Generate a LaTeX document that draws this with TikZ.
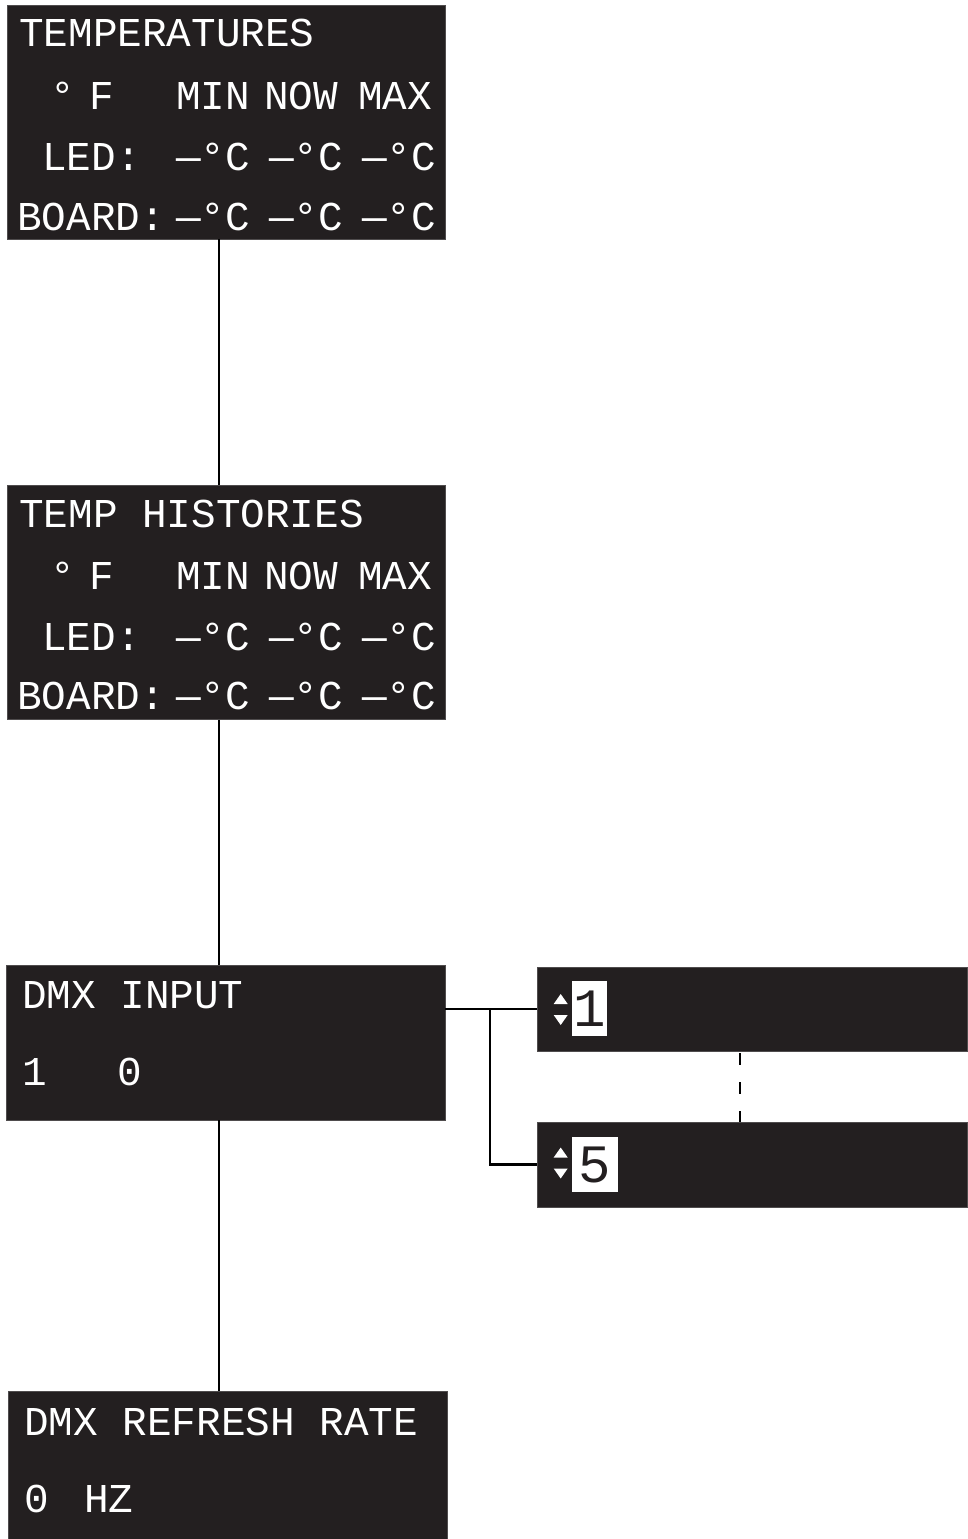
\documentclass[tikz,border=0pt]{standalone}
\usepackage{fontspec}
\usepackage{tikz}
\usetikzlibrary{calc}
\newfontfamily\lcdfont{Liberation Mono}
\definecolor{lcdbg}{HTML}{231F20}

\begin{document}
\begin{tikzpicture}[
  x=1pt, y=-1pt,
  screen/.style={rectangle, fill=lcdbg, draw=lcdbg!80!white, line width=0.6pt, inner sep=0pt},
  lcd/.style={anchor=base west, inner sep=0pt, text=white, font=\lcdfont\fontsize{41}{45}\selectfont},
  keycap/.style={rectangle, fill=white, inner sep=0pt, minimum height=55pt, text=lcdbg, font=\lcdfont\fontsize{54}{58}\selectfont},
  link/.style={line width=2.8pt, black}
]
\useasboundingbox (0,0) rectangle (967,1539);

% screens
\node[screen, minimum width=438pt, minimum height=234pt] (temps) at (226,122) {};
\node[screen, minimum width=438pt, minimum height=234pt] (hist) at (226,602.5) {};
\node[screen, minimum width=439pt, minimum height=155pt] (dmx) at (225.5,1042.5) {};
\node[screen, minimum width=439pt, minimum height=149pt] (rate) at (227.5,1465.5) {};
\node[screen, minimum width=430pt, minimum height=84pt] (sel1) at (752,1009) {};
\node[screen, minimum width=430pt, minimum height=85pt] (sel5) at (752,1164.5) {};

% temperatures
\node[lcd] (tTitle) at (19,46) {TEMPERATURES};
\node[lcd] (tDeg) at (50,109) {°};
\node[lcd] (tF) at (89,109) {F};
\node[lcd] (tMin) at (176,109) {MIN};
\node[lcd] (tNow) at (264,109) {NOW};
\node[lcd] (tMax) at (358,109) {MAX};
\node[lcd] (tLed) at (42,170) {LED:};
\node[lcd] (tLed1) at (176,170) {—°C};
\node[lcd] (tLed2) at (269,170) {—°C};
\node[lcd] (tLed3) at (362,170) {—°C};
\node[lcd] (tBrd) at (17,230) {BOARD:};
\node[lcd] (tBrd1) at (176,230) {—°C};
\node[lcd] (tBrd2) at (269,230) {—°C};
\node[lcd] (tBrd3) at (362,230) {—°C};

% temp histories
\node[lcd] (hTitle) at (19,527) {TEMP HISTORIES};
\node[lcd] (hDeg) at (50,589) {°};
\node[lcd] (hF) at (89,589) {F};
\node[lcd] (hMin) at (176,589) {MIN};
\node[lcd] (hNow) at (264,589) {NOW};
\node[lcd] (hMax) at (358,589) {MAX};
\node[lcd] (hLed) at (42,650) {LED:};
\node[lcd] (hLed1) at (176,650) {—°C};
\node[lcd] (hLed2) at (269,650) {—°C};
\node[lcd] (hLed3) at (362,650) {—°C};
\node[lcd] (hBrd) at (17,709) {BOARD:};
\node[lcd] (hBrd1) at (176,709) {—°C};
\node[lcd] (hBrd2) at (269,709) {—°C};
\node[lcd] (hBrd3) at (362,709) {—°C};

% dmx input
\node[lcd] (dTitle) at (22,1008) {DMX INPUT};
\node[lcd] (dAddr) at (22,1085) {1};
\node[lcd] (dVal) at (117,1085) {0};

% refresh rate
\node[lcd] (rTitle) at (24,1435) {DMX REFRESH RATE};
\node[lcd] (rVal) at (24,1512) {0};
\node[lcd] (rUnit) at (84,1512) {HZ};

% address selectors
\node[keycap, minimum width=35pt] (k1) at (589.5,1008.5) {1};
\node[keycap, minimum width=46pt] (k5) at (595,1164.5) {5};
\fill[white] ($(sel1.west)+(24,-15)$) -- ($(sel1.west)+(17,-5)$) -- ($(sel1.west)+(31,-5)$) -- cycle;
\fill[white] ($(sel1.west)+(17,6)$) -- ($(sel1.west)+(31,6)$) -- ($(sel1.west)+(24,16)$) -- cycle;
\fill[white] ($(sel5.west)+(24,-17)$) -- ($(sel5.west)+(17,-7)$) -- ($(sel5.west)+(31,-7)$) -- cycle;
\fill[white] ($(sel5.west)+(17,4)$) -- ($(sel5.west)+(31,4)$) -- ($(sel5.west)+(24,14)$) -- cycle;

% connectors
\coordinate (spine) at (219,0);
\coordinate (fork) at (490,1009);
\coordinate (gap) at (740,0);
\draw[link] (temps.south -| spine) -- (hist.north -| spine);
\draw[link] (hist.south -| spine) -- (dmx.north -| spine);
\draw[link] (dmx.south -| spine) -- (rate.north -| spine);
\draw[link] (dmx.east |- sel1.west) -- (sel1.west);
\draw[link] (fork) |- (sel5.west);
\draw[link, dash pattern=on 12pt off 17pt, dash phase=27pt] (sel1.south -| gap) -- (sel5.north -| gap);
\end{tikzpicture}
\end{document}
